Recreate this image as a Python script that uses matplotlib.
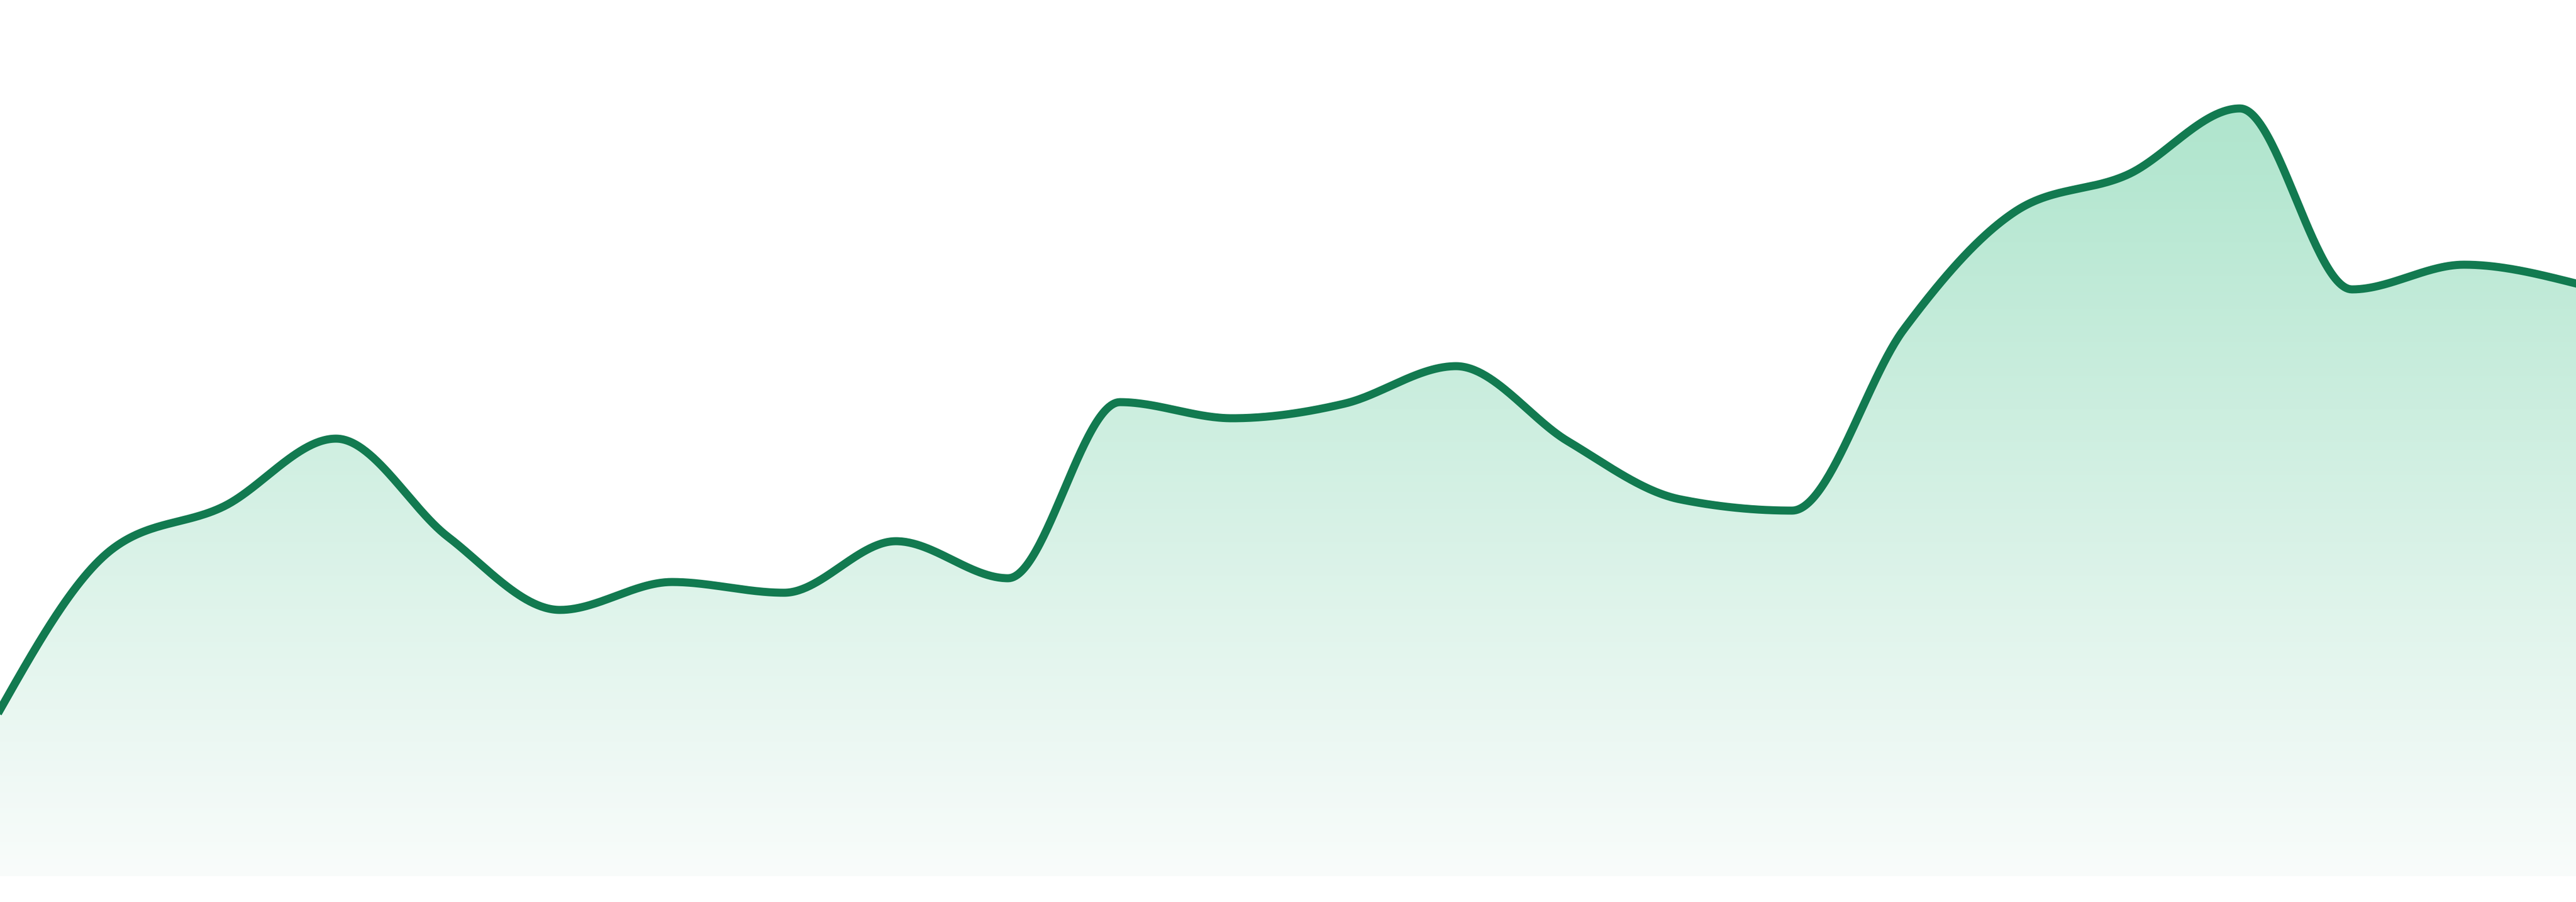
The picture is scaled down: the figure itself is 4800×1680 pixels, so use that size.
import numpy as np
import matplotlib
matplotlib.use("Agg")
import matplotlib.pyplot as plt
from matplotlib.patches import Polygon

# ---- data ----
x_index = list(range(24))
values = [31.0, 60.9, 68.9, 81.5, 63.2, 49.6, 54.8, 52.8, 62.4, 55.5, 88.3, 85.3,
          88.0, 95.0, 81.0, 70.2, 68.1, 101.9, 123.9, 130.7, 143.0, 109.3, 113.9, 110.4]

line_color = "#127a50"
grad_top = (175 / 255, 229 / 255, 205 / 255)
grad_bottom = (249 / 255, 252 / 255, 251 / 255)


def monotone_x(x, y, n_per=60):
    x = np.asarray(x, float)
    y = np.asarray(y, float)
    h = np.diff(x)
    s = np.diff(y) / h
    n = len(x)
    t = np.zeros(n)
    for i in range(1, n - 1):
        s0, s1 = s[i - 1], s[i]
        h0, h1 = h[i - 1], h[i]
        p = (s0 * h1 + s1 * h0) / (h0 + h1)
        t[i] = (np.sign(s0) + np.sign(s1)) * min(abs(s0), abs(s1), 0.5 * abs(p))
    t[0] = (3 * s[0] - t[1]) / 2
    t[-1] = (3 * s[-1] - t[-2]) / 2
    xs, ys = [], []
    for i in range(n - 1):
        u = np.linspace(0, 1, n_per, endpoint=(i == n - 2))
        h00 = 2 * u**3 - 3 * u**2 + 1
        h10 = u**3 - 2 * u**2 + u
        h01 = -2 * u**3 + 3 * u**2
        h11 = u**3 - u**2
        xs.append(x[i] + u * h[i])
        ys.append(h00 * y[i] + h10 * h[i] * t[i] + h01 * y[i + 1] + h11 * h[i] * t[i + 1])
    return np.concatenate(xs), np.concatenate(ys)


W, H = 4800, 1680
bottom_px = 48
fig = plt.figure(figsize=(W / 100, H / 100), dpi=100)
ax = fig.add_axes([0, bottom_px / H, 1, (H - bottom_px) / H])
ax.set_xlim(0, 23)
ax.set_ylim(0, (H - bottom_px) / 10)
ax.axis("off")

xs, ys = monotone_x(x_index, values)

# gradient fill clipped to the area under the curve
top_val = max(ys)
nstep = 512
fr = np.linspace(0, 1, nstep)[:, None]
grad = np.zeros((nstep, 1, 3))
for c in range(3):
    grad[:, 0, c] = grad_top[c] + (grad_bottom[c] - grad_top[c]) * fr[:, 0]
img = ax.imshow(grad, extent=(0, 23, 0, top_val), origin="upper", aspect="auto",
                interpolation="bilinear", zorder=1)
poly_pts = np.column_stack([np.concatenate([xs, [xs[-1], xs[0]]]),
                            np.concatenate([ys, [0, 0]])])
poly = Polygon(poly_pts, closed=True, facecolor="none", edgecolor="none")
ax.add_patch(poly)
img.set_clip_path(poly)

ax.plot(xs, ys, color=line_color, lw=10.8, solid_joinstyle="round", zorder=3)

fig.savefig("out.png", dpi=100, facecolor="white")
